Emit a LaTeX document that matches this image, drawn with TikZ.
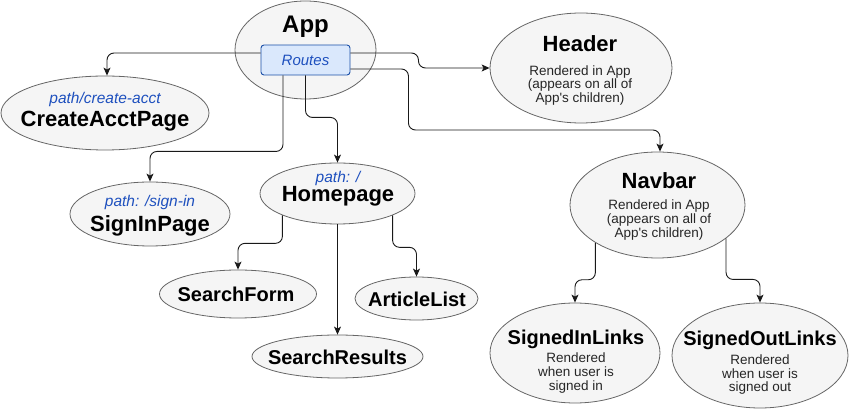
\documentclass[tikz,border=0pt]{standalone}
\usepackage{fontspec}
\setmainfont{Liberation Sans}[Ligatures=TeXOff]
\usetikzlibrary{shapes.geometric,arrows.meta}
\definecolor{ellfill}{HTML}{F5F5F5}
\definecolor{ellline}{HTML}{666666}
\definecolor{pathblue}{HTML}{1E50BE}
\definecolor{routefill}{HTML}{DAE8FC}
\definecolor{routeline}{HTML}{1A4FA8}
\begin{document}
\begin{tikzpicture}[x=1pt,y=-1pt,
 ell/.style={ellipse, draw=ellline, fill=ellfill, line width=0.8pt, inner sep=0pt},
 ttl/.style={anchor=base, inner sep=0pt, font=\fontsize{22}{24}\selectfont\bfseries},
 ttls/.style={anchor=base, inner sep=0pt, font=\fontsize{20}{22}\selectfont\bfseries},
 note/.style={anchor=base, inner sep=0pt, font=\fontsize{13.5}{14}\selectfont, text=black!85},
 pth/.style={anchor=base, inner sep=0pt, font=\fontsize{15.5}{17}\selectfont\itshape, text=pathblue},
 conn/.style={draw=black!90, line width=0.9pt, rounded corners=7pt, -{Stealth[length=8pt,width=7pt,inset=2pt]}}]

\useasboundingbox (0,0) rectangle (852,411);

% App
\node[ell, minimum width=141pt, minimum height=98pt] (App) at (305.5,50) {};
\node[ttl, font=\fontsize{24}{26}\selectfont\bfseries] (tApp) at (305.5,33) {App};
\node[draw=routeline, fill=routefill, rounded corners=3pt, line width=0.9pt, minimum width=89pt, minimum height=30pt, inner sep=0pt] (Routes) at (305.5,60) {};
\node[pth, font=\fontsize{15}{17}\selectfont\itshape] (tRoutes) at (305.5,65.5) {Routes};

% CreateAcctPage
\node[ell, minimum width=208pt, minimum height=74pt] (CA) at (105,113) {};
\node[pth] (pCA) at (105,103.5) {path/create-acct};
\node[ttl] (tCA) at (105,127) {CreateAcctPage};

% Header
\node[ell, minimum width=182pt, minimum height=110pt] (Header) at (581,68) {};
\node[ttl] (tHeader) at (580,52) {Header};
\node[note] (h1) at (580,75.5) {Rendered in App};
\node[note] (h2) at (580,89) {(appears on all of};
\node[note] (h3) at (580,102.5) {App\textquotesingle s children)};

% Navbar
\node[ell, minimum width=175pt, minimum height=106pt] (Navbar) at (657.5,205) {};
\node[ttl] (tNavbar) at (659,189) {Navbar};
\node[note] (n1) at (659,210) {Rendered in App};
\node[note] (n2) at (659,224) {(appears on all of};
\node[note] (n3) at (659,238) {App\textquotesingle s children)};

% SignInPage
\node[ell, minimum width=160pt, minimum height=64pt] (SignIn) at (150,214) {};
\node[pth] (pSignIn) at (150,207) {path: /sign-in};
\node[ttl] (tSignIn) at (150,232) {SignInPage};

% Homepage
\node[ell, minimum width=155pt, minimum height=61pt] (Home) at (337.5,193.5) {};
\node[pth] (pHome) at (338,183) {path: /};
\node[ttl] (tHome) at (338,202) {Homepage};

% SearchForm, ArticleList, SearchResults
\node[ell, minimum width=157pt, minimum height=48pt] (SF) at (238,294) {};
\node[ttls] (tSF) at (236,302) {SearchForm};
\node[ell, minimum width=123pt, minimum height=43pt] (AL) at (416.5,298.5) {};
\node[ttls] (tAL) at (417,307) {ArticleList};
\node[ell, minimum width=171pt, minimum height=43pt] (SR) at (337.5,356.5) {};
\node[ttls] (tSR) at (337.5,365) {SearchResults};

% SignedInLinks
\node[ell, minimum width=170pt, minimum height=100pt] (SI) at (575,353) {};
\node[ttls] (tSI) at (576,345) {SignedInLinks};
\node[note] (si1) at (576,363) {Rendered};
\node[note] (si2) at (576,377) {when user is};
\node[note] (si3) at (576,390.5) {signed in};

% SignedOutLinks
\node[ell, minimum width=176pt, minimum height=105pt] (SO) at (760,355.5) {};
\node[ttls] (tSO) at (760,346) {SignedOutLinks};
\node[note] (so1) at (760,365) {Rendered};
\node[note] (so2) at (760,378.5) {when user is};
\node[note] (so3) at (760,392) {signed out};

% connectors
\draw[conn] ([yshift=7pt]Routes.west) -| ([xshift=2pt]CA.north);
\draw[conn] ([yshift=7pt]Routes.east) -- ++(68,0) |- (Header.west);
\draw[conn] ([yshift=-9pt]Routes.east) -- ++(58,0) -- ++(0,61) -| ([xshift=2.5pt]Navbar.north);
\draw[conn] ([xshift=-22.5pt]Routes.south) -- ++(0,76) -| (SignIn.north);
\draw[conn] (Routes.south) -- ++(0,42) -| (Home.north);
\draw[conn] (Home.south west) -- ++(0,28) -| (SF.north);
\draw[conn] (Home.south) -- (SR.north);
\draw[conn] (Home.south east) -- ++(0,32) -| (AL.north);
\draw[conn] (Navbar.south west) -- ++(0,37) -| (SI.north);
\draw[conn] (Navbar.-26.5) -- ++(0,41) -| (SO.north);
\end{tikzpicture}
\end{document}
